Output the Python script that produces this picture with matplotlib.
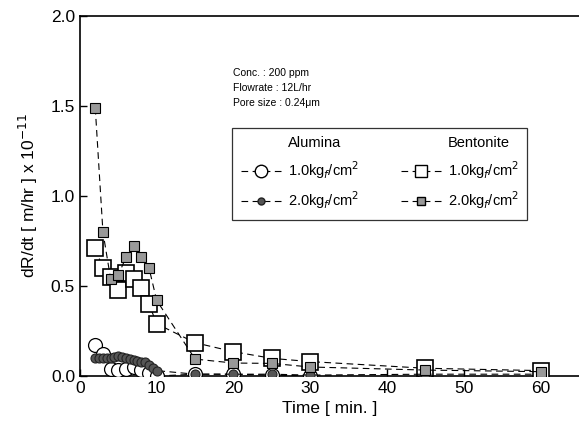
import matplotlib
matplotlib.use('Agg')
import matplotlib.pyplot as plt
from matplotlib.lines import Line2D

plt.rcParams['font.family'] = ['Liberation Sans', 'DejaVu Sans']

# Alumina 1.0 kgf/cm2 (open circles)
t_al1 = [2, 3, 4, 5, 6, 7, 8, 9, 10, 15, 20, 25, 30, 45, 60]
r_al1 = [0.17, 0.12, 0.04, 0.035, 0.04, 0.05, 0.035, 0.015, 0.0, 0.01, 0.01, 0.005, 0.0, -0.01, -0.01]

# Alumina 2.0 kgf/cm2 (dark filled circles, dense sampling)
t_al2 = [2, 2.5, 3, 3.5, 4, 4.5, 5, 5.5, 6, 6.5, 7, 7.5, 8, 8.5, 9, 9.5, 10, 15, 20, 25, 30, 45, 60]
r_al2 = [0.10, 0.10, 0.10, 0.10, 0.10, 0.105, 0.11, 0.105, 0.10, 0.095, 0.09, 0.085, 0.08, 0.075, 0.06, 0.045, 0.03,
         0.01, 0.01, 0.01, 0.005, 0.01, 0.01]

# Bentonite 1.0 kgf/cm2 (open squares)
t_be1 = [2, 3, 4, 5, 6, 7, 8, 9, 10, 15, 20, 25, 30, 45, 60]
r_be1 = [0.71, 0.60, 0.55, 0.48, 0.57, 0.54, 0.49, 0.40, 0.29, 0.185, 0.135, 0.098, 0.08, 0.043, 0.03]

# Bentonite 2.0 kgf/cm2 (gray squares)
t_be2 = [2, 3, 4, 5, 6, 7, 8, 9, 10, 15, 20, 25, 30, 45, 60]
r_be2 = [1.49, 0.80, 0.54, 0.56, 0.66, 0.72, 0.66, 0.60, 0.42, 0.094, 0.072, 0.07, 0.05, 0.033, 0.024]

fig = plt.figure(figsize=(5.79, 4.28), dpi=100)
ax = fig.add_axes([0.138, 0.1215, 0.862, 0.841])

dash = (0, (6, 4))
ax.plot(t_al1, r_al1, linestyle=dash, color='black', lw=0.8, marker='o', ms=10,
        mfc='white', mec='black', mew=0.9, zorder=3)
ax.plot(t_al2, r_al2, linestyle=dash, color='black', lw=0.8, marker='o', ms=6.5,
        mfc='#555555', mec='#222222', mew=0.8, zorder=4)
ax.plot(t_be1, r_be1, linestyle=dash, color='black', lw=0.8, marker='s', ms=12,
        mfc='white', mec='black', mew=1.2, zorder=3)
ax.plot(t_be2, r_be2, linestyle=dash, color='black', lw=0.8, marker='s', ms=7,
        mfc='#999999', mec='black', mew=0.8, zorder=4)

ax.set_xlim(0, 65)
ax.set_ylim(0, 2.0)
ax.set_xticks([0, 10, 20, 30, 40, 50, 60])
ax.set_yticks([0.0, 0.5, 1.0, 1.5, 2.0])
ax.set_yticklabels(['0.0', '0.5', '1.0', '1.5', '2.0'])
ax.tick_params(direction='in', labelsize=12.5, length=5, width=1)
ax.spines['right'].set_visible(False)
for s in ['left', 'bottom', 'top']:
    ax.spines[s].set_linewidth(1.2)

ax.set_xlabel('Time [ min. ]', fontsize=12.5)
ax.set_ylabel('dR/dt [ m/hr ] x 10$^{-11}$', fontsize=12.5, labelpad=8)

ax.text(0.307, 0.855, 'Conc. : 200 ppm\nFlowrate : 12L/hr\nPore size : 0.24\u03bcm',
        transform=ax.transAxes, fontsize=7.5, va='top', ha='left', linespacing=1.6)

blank = Line2D([], [], linestyle='none', marker='none')
h_al1 = Line2D([], [], linestyle=dash, color='black', lw=0.8, marker='o', ms=9,
               mfc='white', mec='black')
h_al2 = Line2D([], [], linestyle=dash, color='black', lw=0.8, marker='o', ms=5,
               mfc='#555555', mec='#222222')
h_be1 = Line2D([], [], linestyle=dash, color='black', lw=0.8, marker='s', ms=9,
               mfc='white', mec='black')
h_be2 = Line2D([], [], linestyle=dash, color='black', lw=0.8, marker='s', ms=6,
               mfc='#999999', mec='black')
lab1 = '1.0kg$_f$/cm$^2$'
lab2 = '2.0kg$_f$/cm$^2$'
leg = ax.legend([blank, h_al1, h_al2, blank, h_be1, h_be2],
                ['Alumina', lab1, lab2, 'Bentonite', lab1, lab2],
                ncol=2, loc='upper left', bbox_to_anchor=(0.305, 0.69),
                fontsize=10.5, frameon=True, fancybox=False, edgecolor='black',
                handlelength=2.8, handletextpad=0.4, columnspacing=2.9,
                labelspacing=0.6, borderpad=0.6, borderaxespad=0.0)
leg.get_frame().set_linewidth(0.9)

fig.savefig('out.png', dpi=100)
